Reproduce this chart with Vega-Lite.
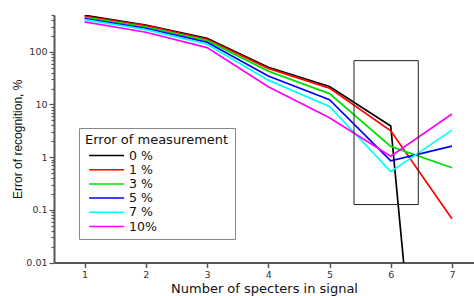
{
  "$schema": "https://vega.github.io/schema/vega-lite/v6.json",
  "width": 420,
  "height": 247.5,
  "autosize": {"type": "none"},
  "padding": {"left": 54, "top": 15, "right": 0, "bottom": 33.5},
  "background": "white",
  "config": {"view": {"stroke": null}, "font": "DejaVu Sans"},
  "layer": [
    {
      "data": {
        "values": [
          {"n": 1, "err": 494, "series": "0 %"},
          {"n": 2, "err": 323, "series": "0 %"},
          {"n": 3, "err": 181, "series": "0 %"},
          {"n": 4, "err": 51, "series": "0 %"},
          {"n": 5, "err": 21.9, "series": "0 %"},
          {"n": 6, "err": 3.9, "series": "0 %"},
          {"n": 7, "err": 2e-12, "series": "0 %"},
          {"n": 1, "err": 473, "series": "1 %"},
          {"n": 2, "err": 314, "series": "1 %"},
          {"n": 3, "err": 173, "series": "1 %"},
          {"n": 4, "err": 48.5, "series": "1 %"},
          {"n": 5, "err": 20.5, "series": "1 %"},
          {"n": 6, "err": 3.16, "series": "1 %"},
          {"n": 7, "err": 0.068, "series": "1 %"},
          {"n": 1, "err": 453, "series": "3 %"},
          {"n": 2, "err": 296, "series": "3 %"},
          {"n": 3, "err": 163, "series": "3 %"},
          {"n": 4, "err": 43, "series": "3 %"},
          {"n": 5, "err": 16.1, "series": "3 %"},
          {"n": 6, "err": 1.6, "series": "3 %"},
          {"n": 7, "err": 0.63, "series": "3 %"},
          {"n": 1, "err": 426, "series": "5 %"},
          {"n": 2, "err": 280, "series": "5 %"},
          {"n": 3, "err": 152, "series": "5 %"},
          {"n": 4, "err": 34.7, "series": "5 %"},
          {"n": 5, "err": 12.3, "series": "5 %"},
          {"n": 6, "err": 0.85, "series": "5 %"},
          {"n": 7, "err": 1.62, "series": "5 %"},
          {"n": 1, "err": 408, "series": "7 %"},
          {"n": 2, "err": 263, "series": "7 %"},
          {"n": 3, "err": 139, "series": "7 %"},
          {"n": 4, "err": 29, "series": "7 %"},
          {"n": 5, "err": 9.2, "series": "7 %"},
          {"n": 6, "err": 0.53, "series": "7 %"},
          {"n": 7, "err": 3.26, "series": "7 %"},
          {"n": 1, "err": 369, "series": "10%"},
          {"n": 2, "err": 235, "series": "10%"},
          {"n": 3, "err": 120, "series": "10%"},
          {"n": 4, "err": 21.7, "series": "10%"},
          {"n": 5, "err": 5.6, "series": "10%"},
          {"n": 6, "err": 1.04, "series": "10%"},
          {"n": 7, "err": 6.6, "series": "10%"}
        ]
      },
      "mark": {"type": "line", "clip": true, "strokeWidth": 1.7},
      "encoding": {
        "x": {
          "field": "n",
          "type": "quantitative",
          "scale": {"domain": [0.5, 7.36], "nice": false, "zero": false},
          "axis": {
            "title": "Number of specters in signal",
            "titleFontSize": 13,
            "titleFontWeight": "normal",
            "titleColor": "#111",
            "titlePadding": 3,
            "values": [1, 1.5, 2, 2.5, 3, 3.5, 4, 4.5, 5, 5.5, 6, 6.5, 7],
            "labelExpr": "datum.value % 1 == 0 ? format(datum.value, 'd') : ''",
            "labelFontSize": 9.5,
            "labelColor": "#333",
            "labelPadding": 2,
            "labelOverlap": false,
            "domainColor": "#555",
            "domainWidth": 2,
            "tickColor": "#555",
            "tickWidth": 1.5,
            "tickSize": {"condition": {"test": "datum.value % 1 == 0", "value": 5}, "value": 3},
            "grid": false
          }
        },
        "y": {
          "field": "err",
          "type": "quantitative",
          "scale": {"type": "log", "domain": [0.01, 500], "nice": false},
          "axis": {
            "title": "Error of recognition, %",
            "titleFont": "Liberation Sans",
            "titleFontSize": 12,
            "titleFontWeight": "normal",
            "titleColor": "#111",
            "titlePadding": 1,
            "values": [0.01, 0.02, 0.03, 0.04, 0.05, 0.06, 0.07, 0.08, 0.09, 0.1, 0.2, 0.3, 0.4, 0.5, 0.6, 0.7, 0.8, 0.9, 1, 2, 3, 4, 5, 6, 7, 8, 9, 10, 20, 30, 40, 50, 60, 70, 80, 90, 100, 200, 300, 400, 500],
            "format": "~g",
            "labelExpr": "abs(log(datum.value)/LN10 - round(log(datum.value)/LN10)) < 0.001 ? datum.label : ''",
            "labelFontSize": 9.5,
            "labelColor": "#333",
            "labelPadding": 2,
            "labelOverlap": false,
            "labelBound": false,
            "domainColor": "#555",
            "domainWidth": 2,
            "tickColor": "#555",
            "tickWidth": 1.2,
            "tickSize": {"condition": {"test": "abs(log(datum.value)/LN10 - round(log(datum.value)/LN10)) < 0.001", "value": 5}, "value": 3},
            "grid": false
          }
        },
        "color": {
          "field": "series",
          "type": "nominal",
          "scale": {
            "domain": ["0 %", "1 %", "3 %", "5 %", "7 %", "10%"],
            "range": ["#000000", "#ff0000", "#00e000", "#0000ff", "#00ffff", "#ff00ff"]
          },
          "legend": {
            "title": "Error of measurement",
            "orient": "none",
            "legendX": 25,
            "legendY": 113,
            "direction": "vertical",
            "symbolType": "M-0.49,0L5.51,0",
            "symbolSize": 136,
            "symbolStrokeWidth": 1.5,
            "rowPadding": 0.2,
            "titleFontSize": 13,
            "titleFontWeight": "normal",
            "titleColor": "#111",
            "titlePadding": 1.5,
            "labelFontSize": 12.5,
            "labelColor": "#111",
            "labelOffset": 30,
            "strokeColor": "#888",
            "fillColor": "white",
            "padding": 6
          }
        }
      }
    },
    {
      "data": {"values": [{"x1": 5.4, "x2": 6.45, "y1": 0.126, "y2": 68}]},
      "mark": {"type": "rect", "fill": "transparent", "stroke": "#222", "strokeWidth": 1},
      "encoding": {
        "x": {"field": "x1", "type": "quantitative"},
        "x2": {"field": "x2"},
        "y": {"field": "y1", "type": "quantitative"},
        "y2": {"field": "y2"}
      }
    }
  ]
}
